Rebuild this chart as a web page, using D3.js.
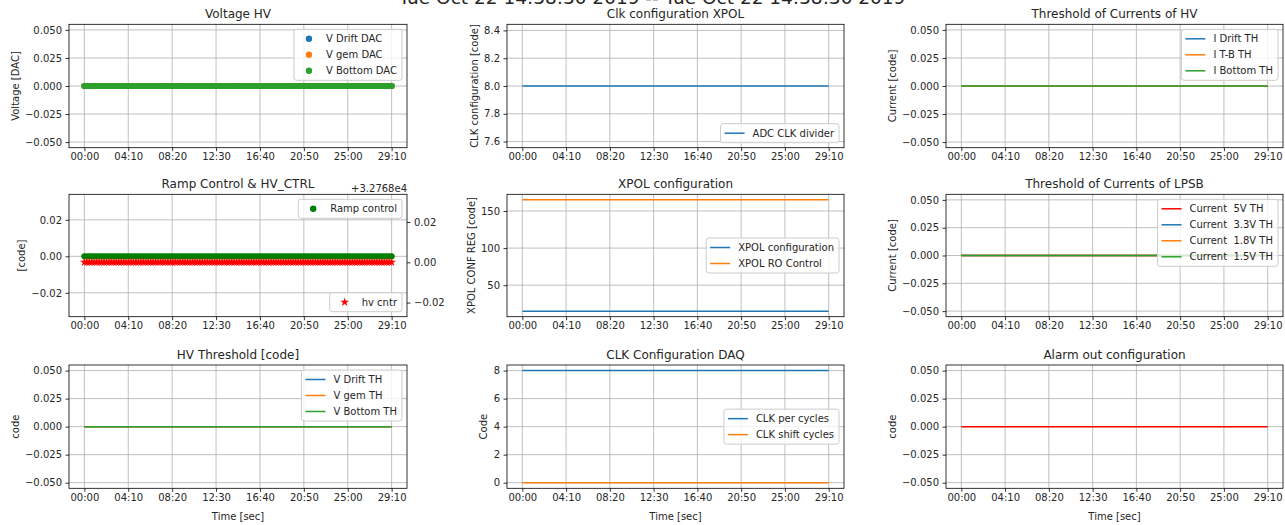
<!DOCTYPE html>
<html><head><meta charset="utf-8">
<script src="https://cdn.jsdelivr.net/npm/d3@7"></script>
<style>
body{margin:0;background:#fff;}
svg{display:block;font-family:"DejaVu Sans",sans-serif;}
</style></head><body>
<svg id="chart" width="1285" height="525"></svg>
<script>
// ---------------- DATA ----------------
const suptitle = "Tue Oct 22 14:38:30 2019 -- Tue Oct 22 14:38:30 2019";
const times = [
0,14,28,42,56,70,84,98,112,126,140,154,168,182,
196,210,224,238,252,266,280,294,308,322,336,350,364,378,
392,406,420,434,448,462,476,490,504,518,532,546,560,574,
588,602,616,630,644,658,672,686,700,714,728,742,756,770,
784,798,812,826,840,854,868,882,896,910,924,938,952,966,
980,994,1008,1022,1036,1050,1064,1078,1092,1106,1120,1134,1148,1162,
1176,1190,1204,1218,1232,1246,1260,1274,1288,1302,1316,1330,1344,1358,
1372,1386,1400,1414,1428,1442,1456,1470,1484,1498,1512,1526,1540,1554,
1568,1582,1596,1610,1624,1638,1652,1666,1680,1694,1708,1722,1736,1750];
const xTickValues = [0,250,500,750,1000,1250,1500,1750];
const xTickLabels = ["00:00","04:10","08:20","12:30","16:40","20:50","25:00","29:10"];

const zeroReadings = [
0,0,0,0,0,0,0,0,0,0,0,0,0,0,
0,0,0,0,0,0,0,0,0,0,0,0,0,0,
0,0,0,0,0,0,0,0,0,0,0,0,0,0,
0,0,0,0,0,0,0,0,0,0,0,0,0,0,
0,0,0,0,0,0,0,0,0,0,0,0,0,0,
0,0,0,0,0,0,0,0,0,0,0,0,0,0,
0,0,0,0,0,0,0,0,0,0,0,0,0,0,
0,0,0,0,0,0,0,0,0,0,0,0,0,0,
0,0,0,0,0,0,0,0,0,0,0,0,0,0];
const adcClkDivider = [
8,8,8,8,8,8,8,8,8,8,8,8,8,8,
8,8,8,8,8,8,8,8,8,8,8,8,8,8,
8,8,8,8,8,8,8,8,8,8,8,8,8,8,
8,8,8,8,8,8,8,8,8,8,8,8,8,8,
8,8,8,8,8,8,8,8,8,8,8,8,8,8,
8,8,8,8,8,8,8,8,8,8,8,8,8,8,
8,8,8,8,8,8,8,8,8,8,8,8,8,8,
8,8,8,8,8,8,8,8,8,8,8,8,8,8,
8,8,8,8,8,8,8,8,8,8,8,8,8,8];
const xpolConfiguration = [
15,15,15,15,15,15,15,15,15,15,15,15,15,15,
15,15,15,15,15,15,15,15,15,15,15,15,15,15,
15,15,15,15,15,15,15,15,15,15,15,15,15,15,
15,15,15,15,15,15,15,15,15,15,15,15,15,15,
15,15,15,15,15,15,15,15,15,15,15,15,15,15,
15,15,15,15,15,15,15,15,15,15,15,15,15,15,
15,15,15,15,15,15,15,15,15,15,15,15,15,15,
15,15,15,15,15,15,15,15,15,15,15,15,15,15,
15,15,15,15,15,15,15,15,15,15,15,15,15,15];
const xpolRoControl = [
165,165,165,165,165,165,165,165,165,165,165,165,165,165,
165,165,165,165,165,165,165,165,165,165,165,165,165,165,
165,165,165,165,165,165,165,165,165,165,165,165,165,165,
165,165,165,165,165,165,165,165,165,165,165,165,165,165,
165,165,165,165,165,165,165,165,165,165,165,165,165,165,
165,165,165,165,165,165,165,165,165,165,165,165,165,165,
165,165,165,165,165,165,165,165,165,165,165,165,165,165,
165,165,165,165,165,165,165,165,165,165,165,165,165,165,
165,165,165,165,165,165,165,165,165,165,165,165,165,165];
const hvCntr = [
32768,32768,32768,32768,32768,32768,32768,32768,32768,32768,32768,32768,32768,32768,
32768,32768,32768,32768,32768,32768,32768,32768,32768,32768,32768,32768,32768,32768,
32768,32768,32768,32768,32768,32768,32768,32768,32768,32768,32768,32768,32768,32768,
32768,32768,32768,32768,32768,32768,32768,32768,32768,32768,32768,32768,32768,32768,
32768,32768,32768,32768,32768,32768,32768,32768,32768,32768,32768,32768,32768,32768,
32768,32768,32768,32768,32768,32768,32768,32768,32768,32768,32768,32768,32768,32768,
32768,32768,32768,32768,32768,32768,32768,32768,32768,32768,32768,32768,32768,32768,
32768,32768,32768,32768,32768,32768,32768,32768,32768,32768,32768,32768,32768,32768,
32768,32768,32768,32768,32768,32768,32768,32768,32768,32768,32768,32768,32768,32768];

const vDriftDAC = zeroReadings, vGemDAC = zeroReadings, vBottomDAC = zeroReadings;
const iDriftTH = zeroReadings, iTBTH = zeroReadings, iBottomTH = zeroReadings;
const rampControl = zeroReadings;
const current5VTH = zeroReadings, current33VTH = zeroReadings, current18VTH = zeroReadings, current15VTH = zeroReadings;
const vDriftTH = zeroReadings, vGemTH = zeroReadings, vBottomTH = zeroReadings;
const clkPerCycles = adcClkDivider, clkShiftCycles = zeroReadings;
const alarmOut = zeroReadings;

const zeroTicks = [-0.05,-0.025,0,0.025,0.05];
const clkXpolTicks = [7.6,7.8,8.0,8.2,8.4];
const xpolTicks = [50,100,150];
const clkDaqTicks = [0,2,4,6,8];
const rampLeftTicks = [-0.02,0,0.02];
const rampRightOffset = 32768;
const rampRightTicks = [-0.02,0,0.02];

// ---------------- LAYOUT ----------------
const colL = [69, 507, 946], colR = [407, 844, 1283];
const rowT = [24.3, 194.3, 365], rowB = [147.7, 316.7, 488.3];
const C = {blue:"#1f77b4", orange:"#ff7f0e", green:"#2ca02c", red:"#ff0000", g:"#008000"};
const TXT = "#262626";

const svg = d3.select("#chart");
svg.append("text").attr("x", 652).attr("y", 3.5).attr("text-anchor","middle")
  .attr("font-size", 18.5).attr("fill", TXT).text(suptitle);

const xPad = (d3.max(times) - d3.min(times)) * 0.05;
const xDomain = [d3.min(times) - xPad, d3.max(times) + xPad];

const panels = [
 {c:0,r:0,title:"Voltage HV",ylabel:"Voltage [DAC]",yDomain:[-0.055,0.055],yTicks:zeroTicks,fmt:".3f",legend:"upper",
  series:[{label:"V Drift DAC",values:vDriftDAC,color:C.blue,type:"dot"},
          {label:"V gem DAC",values:vGemDAC,color:C.orange,type:"dot"},
          {label:"V Bottom DAC",values:vBottomDAC,color:C.green,type:"dot"}]},
 {c:1,r:0,title:"Clk configuration XPOL",ylabel:"CLK configuration [code]",yDomain:[7.556,8.444],yTicks:clkXpolTicks,fmt:".1f",legend:"lower",
  series:[{label:"ADC CLK divider",values:adcClkDivider,color:C.blue,type:"line"}]},
 {c:2,r:0,title:"Threshold of Currents of HV",ylabel:"Current [code]",yDomain:[-0.055,0.055],yTicks:zeroTicks,fmt:".3f",legend:"upper",
  series:[{label:"I Drift TH",values:iDriftTH,color:C.blue,type:"line"},
          {label:"I T-B TH",values:iTBTH,color:C.orange,type:"line"},
          {label:"I Bottom TH",values:iBottomTH,color:C.green,type:"line"}]},
 {c:0,r:1,title:"Ramp Control & HV_CTRL",ylabel:"[code]",yDomain:[-0.0331,0.034],yTicks:rampLeftTicks,fmt:".2f",legend:"upper",
  series:[{label:"Ramp control",values:rampControl,color:C.g,type:"dot"}],
  right:{domain:[rampRightOffset-0.027, rampRightOffset+0.03375],ticks:rampRightTicks,offset:rampRightOffset,
         offsetText:"+3.2768e4",legend:"lower",
         series:[{label:"hv cntr",values:hvCntr,color:C.red,type:"star"}]}},
 {c:1,r:1,title:"XPOL configuration",ylabel:"XPOL CONF REG [code]",yDomain:[7.5,172.5],yTicks:xpolTicks,fmt:"d",legend:"center",
  series:[{label:"XPOL configuration",values:xpolConfiguration,color:C.blue,type:"line"},
          {label:"XPOL RO Control",values:xpolRoControl,color:C.orange,type:"line"}]},
 {c:2,r:1,title:"Threshold of Currents of LPSB",ylabel:"Current [code]",yDomain:[-0.055,0.055],yTicks:zeroTicks,fmt:".3f",legend:"upper",
  series:[{label:"Current  5V TH",values:current5VTH,color:C.red,type:"line"},
          {label:"Current  3.3V TH",values:current33VTH,color:C.blue,type:"line"},
          {label:"Current  1.8V TH",values:current18VTH,color:C.orange,type:"line"},
          {label:"Current  1.5V TH",values:current15VTH,color:C.green,type:"line"}]},
 {c:0,r:2,title:"HV Threshold [code]",ylabel:"code",xlabel:"Time [sec]",yDomain:[-0.055,0.055],yTicks:zeroTicks,fmt:".3f",legend:"upper",
  series:[{label:"V Drift TH",values:vDriftTH,color:C.blue,type:"line"},
          {label:"V gem TH",values:vGemTH,color:C.orange,type:"line"},
          {label:"V Bottom TH",values:vBottomTH,color:C.green,type:"line"}]},
 {c:1,r:2,title:"CLK Configuration DAQ",ylabel:"Code",xlabel:"Time [sec]",yDomain:[-0.4,8.4],yTicks:clkDaqTicks,fmt:"d",legend:"center",
  series:[{label:"CLK per cycles",values:clkPerCycles,color:C.blue,type:"line"},
          {label:"CLK shift cycles",values:clkShiftCycles,color:C.orange,type:"line"}]},
 {c:2,r:2,title:"Alarm out configuration",ylabel:"code",xlabel:"Time [sec]",yDomain:[-0.055,0.055],yTicks:zeroTicks,fmt:".3f",legend:null,
  series:[{label:"",values:alarmOut,color:C.red,type:"line"}]}
];

function pts(values){ const n=Math.min(times.length, values.length); const a=[]; for(let i=0;i<n;i++) a.push([times[i], values[i]]); return a; }

function drawSeries(g, s, x, y){
  const data = pts(s.values);
  if (s.type === "line") {
    g.append("path").datum(data).attr("fill","none").attr("stroke",s.color).attr("stroke-width",1.5)
      .attr("d", d3.line().x(d=>x(d[0])).y(d=>y(d[1])));
  } else if (s.type === "dot") {
    g.selectAll(null).data(data).join("circle").attr("cx",d=>x(d[0])).attr("cy",d=>y(d[1])).attr("r",3.1)
      .attr("fill",s.color);
  } else if (s.type === "star") {
    const sym = d3.symbol(d3.symbolStar, 24)();
    g.selectAll(null).data(data).join("path").attr("d",sym)
      .attr("transform",d=>`translate(${x(d[0])},${y(d[1])})`).attr("fill",s.color);
  }
}

function drawLegend(g, items, loc, L, R, T, B){
  const tmp = g.append("text").attr("font-size",10).style("white-space","pre");
  let maxW = 0;
  items.forEach(it => { tmp.text(it.label); maxW = Math.max(maxW, tmp.node().getComputedTextLength()); });
  tmp.remove();
  const n = items.length;
  const w = 32 + maxW + 5, h = 8 + n*11 + (n-1)*5;
  const x0 = R - 5 - w;
  const y0 = loc === "upper" ? T + 5 : loc === "lower" ? B - 5 - h : (T + B)/2 - h/2;
  const lg = g.append("g");
  lg.append("rect").attr("x",x0).attr("y",y0).attr("width",w).attr("height",h).attr("rx",2.5)
    .attr("fill","#fff").attr("fill-opacity",0.8).attr("stroke","#cccccc").attr("stroke-width",1);
  items.forEach((it,i) => {
    const cy = y0 + 4 + 5.5 + i*16;
    if (it.type === "line") {
      lg.append("line").attr("x1",x0+4).attr("x2",x0+24).attr("y1",cy).attr("y2",cy)
        .attr("stroke",it.color).attr("stroke-width",1.5);
    } else if (it.type === "dot") {
      lg.append("circle").attr("cx",x0+15).attr("cy",cy).attr("r",3.2).attr("fill",it.color);
    } else if (it.type === "star") {
      lg.append("path").attr("d", d3.symbol(d3.symbolStar, 24)()).attr("transform",`translate(${x0+15},${cy})`).attr("fill",it.color);
    }
    lg.append("text").attr("x",x0+32).attr("y",cy).attr("dy","0.36em").attr("font-size",10)
      .style("white-space","pre").attr("fill",TXT).text(it.label);
  });
}

function styleAxis(ax){
  ax.select(".domain").remove();
  ax.selectAll(".tick line").attr("stroke","#000").attr("stroke-width",0.8);
  ax.selectAll(".tick text").attr("fill",TXT).attr("font-size",10).attr("font-family","DejaVu Sans");
}

panels.forEach(p => {
  const L = colL[p.c], R = colR[p.c], T = rowT[p.r], B = rowB[p.r];
  const g = svg.append("g");
  const x = d3.scaleLinear().domain(xDomain).range([L, R]);
  const y = d3.scaleLinear().domain(p.yDomain).range([B, T]);

  // grid
  const grid = g.append("g").attr("stroke","#b0b0b0").attr("stroke-width",0.8);
  xTickValues.forEach(v => grid.append("line").attr("x1",x(v)).attr("x2",x(v)).attr("y1",T).attr("y2",B));
  p.yTicks.forEach(v => grid.append("line").attr("x1",L).attr("x2",R).attr("y1",y(v)).attr("y2",y(v)));

  // data
  const dg = g.append("g");
  p.series.forEach(s => drawSeries(dg, s, x, y));
  let yR = null;
  if (p.right) {
    yR = d3.scaleLinear().domain(p.right.domain).range([B, T]);
    p.right.series.forEach(s => drawSeries(dg, s, x, yR));
  }

  // axes
  const ax = g.append("g").attr("transform",`translate(0,${B})`)
    .call(d3.axisBottom(x).tickValues(xTickValues).tickFormat((d,i)=>xTickLabels[i]).tickSize(3.5).tickPadding(2.2));
  styleAxis(ax);
  const ay = g.append("g").attr("transform",`translate(${L},0)`)
    .call(d3.axisLeft(y).tickValues(p.yTicks).tickFormat(d3.format(p.fmt)).tickSize(3.5).tickPadding(3.5));
  styleAxis(ay);
  if (p.right) {
    const fr = d3.format(".2f");
    const ar = g.append("g").attr("transform",`translate(${R},0)`)
      .call(d3.axisRight(yR).tickValues(p.right.ticks.map(t => p.right.offset + t))
        .tickFormat(d => fr(d - p.right.offset)).tickSize(3.5).tickPadding(3.5));
    styleAxis(ar);
    g.append("text").attr("x",R).attr("y",T-2.5).attr("text-anchor","end").attr("font-size",10)
      .attr("fill",TXT).text(p.right.offsetText);
  }

  // spines
  g.append("rect").attr("x",L).attr("y",T).attr("width",R-L).attr("height",B-T)
    .attr("fill","none").attr("stroke","#000").attr("stroke-width",0.8);

  // title
  g.append("text").attr("x",(L+R)/2).attr("y",T-6).attr("text-anchor","middle").attr("font-size",12)
    .attr("fill",TXT).text(p.title);

  // ylabel
  const tickLeft = L + ay.node().getBBox().x;
  const bx = tickLeft - 4 - 2.4;
  g.append("text").attr("transform",`translate(${bx},${(T+B)/2}) rotate(-90)`).attr("text-anchor","middle")
    .attr("font-size",10).attr("fill",TXT).text(p.ylabel);

  if (p.xlabel) {
    g.append("text").attr("x",(L+R)/2).attr("y",B+31.5).attr("text-anchor","middle").attr("font-size",10)
      .attr("fill",TXT).text(p.xlabel);
  }

  // legends
  if (p.legend) drawLegend(g, p.series, p.legend, L, R, T, B);
  if (p.right && p.right.legend) drawLegend(g, p.right.series, p.right.legend, L, R, T, B);
});
</script>
</body></html>
